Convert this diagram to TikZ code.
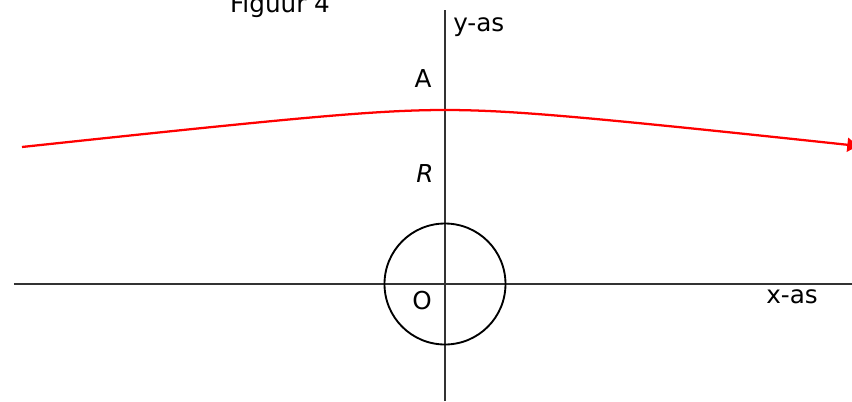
\documentclass[tikz,border=0pt]{standalone}
\usepackage{fontspec}
\setmainfont{DejaVu Sans}
\usetikzlibrary{arrows.meta}

\begin{document}
\begin{tikzpicture}[x=0.75pt,y=0.75pt,font=\fontsize{18.5}{21}\selectfont,>={Triangle[length=8pt,width=10.5pt]},
  axis/.style={draw=black!80,line width=1pt},
  lbl/.style={anchor=base,inner sep=0pt},
  orbit/.style={draw=red,line width=1.7pt}]
  \useasboundingbox (-445,-117) rectangle (407,284);
  \coordinate (O) at (0,0);
  \coordinate (xl) at (-431,0); \coordinate (xr) at (407,0);
  \coordinate (yb) at (0,-117); \coordinate (yt) at (0,274);
  \draw[axis] (xl) -- (xr);
  \draw[axis] (yb) -- (yt);
  \node[circle,draw,line width=1.4pt,minimum size=90.75pt,inner sep=0pt] (planet) at (O) {};
  \draw[orbit,->] plot[domain=-423:413,samples=80,smooth] (\x,{174-11*(sqrt(0.9604+(\x/100)^2)-0.98)});
  \node[lbl] (fig) at (-165,272) {Figuur 4};
  \node[lbl,anchor=base west] (ylab) at (8,253) {y-as};
  \node[lbl] (A) at (-22,197) {A};
  \node[lbl] (R) at (-20,102) {\textit{R}};
  \node[lbl] (Olab) at (-23,-25) {O};
  \node[lbl] (xlab) at (347,-19) {x-as};
\end{tikzpicture}
\end{document}
